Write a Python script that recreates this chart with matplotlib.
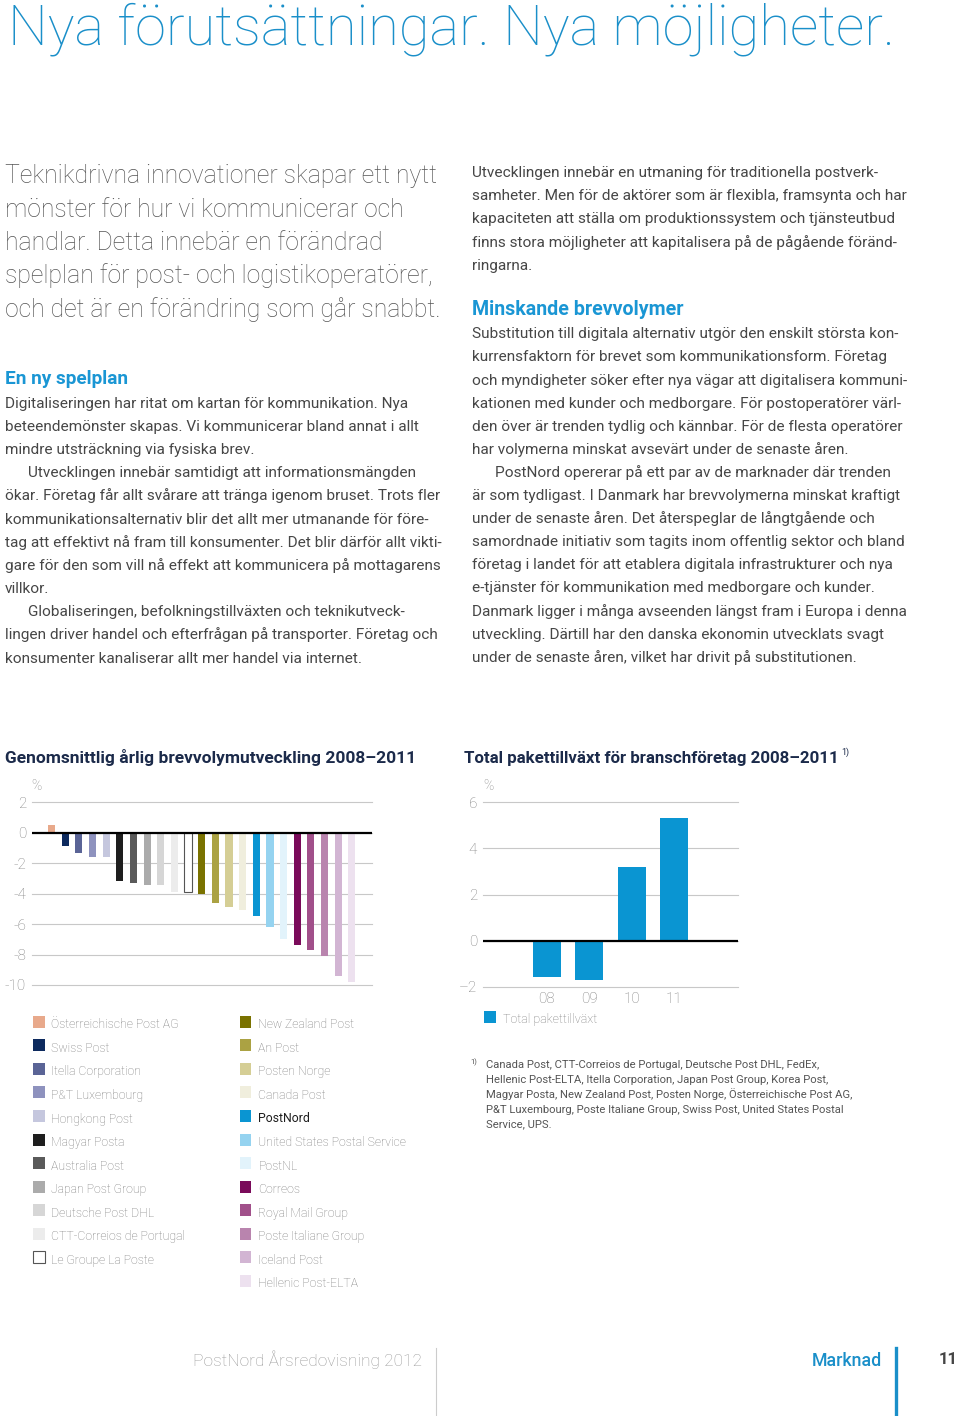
import matplotlib
matplotlib.use('Agg')
import matplotlib.pyplot as plt
from matplotlib.patches import Rectangle
from matplotlib.lines import Line2D
import numpy as np

# --- data -------------------------------------------------------------
operators = ['Österreichische Post AG', 'Swiss Post', 'Itella Corporation',
             'P&T Luxembourg', 'Hongkong Post', 'Magyar Posta', 'Australia Post',
             'Japan Post Group', 'Deutsche Post DHL', 'CTT-Correios de Portugal',
             'Le Groupe La Poste', 'New Zealand Post', 'An Post', 'Posten Norge',
             'Canada Post', 'PostNord', 'United States Postal Service', 'PostNL',
             'Correos', 'Royal Mail Group', 'Poste Italiane Group', 'Iceland Post',
             'Hellenic Post-ELTA']
volume_change = [0.5, -0.9, -1.3, -1.6, -1.6, -3.2, -3.3, -3.4, -3.4, -3.9, -3.9,
                 -4.0, -4.6, -4.9, -5.1, -5.5, -6.2, -7.0, -7.4, -7.7, -8.1, -9.4, -9.8]
operator_colors = ['#e8a98b', '#0d2a5e', '#5a6496', '#8e92be', '#c5c7de', '#1e1e1e',
                   '#5a5a5a', '#ababab', '#d6d6d6', '#ececec', '#ffffff', '#7a7200',
                   '#aba243', '#d5ce95', '#f0eedd', '#0a95d2', '#95d3f0', '#e2f3fb',
                   '#7a0a5a', '#a1508a', '#b984ae', '#d2b5d3', '#ede1ef']

years = ['08', '09', '10', '11']
parcel_growth = [-1.6, -1.7, 3.2, 5.3]

title = 'Nya förutsättningar. Nya möjligheter.'
intro_lines = [
    'Teknikdrivna innovationer skapar ett nytt',
    'mönster för hur vi kommunicerar och',
    'handlar. Detta innebär en förändrad',
    'spelplan för post- och logistikoperatörer,',
    'och det är en förändring som går snabbt.',
]
left_heading = 'En ny spelplan'
left_body = [
    'Digitaliseringen har ritat om kartan för kommunikation. Nya',
    'beteendemönster skapas. Vi kommunicerar bland annat i allt',
    'mindre utsträckning via fysiska brev.',
    'Utvecklingen innebär samtidigt att informationsmängden',
    'ökar. Företag får allt svårare att tränga igenom bruset. Trots fler',
    'kommunikationsalternativ blir det allt mer utmanande för före-',
    'tag att effektivt nå fram till konsumenter. Det blir därför allt vikti-',
    'gare för den som vill nå effekt att kommunicera på mottagarens',
    'villkor.',
    'Globaliseringen, befolkningstillväxten och teknikutveck-',
    'lingen driver handel och efterfrågan på transporter. Företag och',
    'konsumenter kanaliserar allt mer handel via internet.',
]
left_indent = {3, 9}
right_top = [
    'Utvecklingen innebär en utmaning för traditionella postverk-',
    'samheter. Men för de aktörer som är flexibla, framsynta och har',
    'kapaciteten att ställa om produktionssystem och tjänsteutbud',
    'finns stora möjligheter att kapitalisera på de pågående föränd-',
    'ringarna.',
]
right_heading = 'Minskande brevvolymer'
right_body = [
    'Substitution till digitala alternativ utgör den enskilt största kon-',
    'kurrensfaktorn för brevet som kommunikationsform. Företag',
    'och myndigheter söker efter nya vägar att digitalisera kommuni-',
    'kationen med kunder och medborgare. För postoperatörer värl-',
    'den över är trenden tydlig och kännbar. För de flesta operatörer',
    'har volymerna minskat avsevärt under de senaste åren.',
    'PostNord opererar på ett par av de marknader där trenden',
    'är som tydligast. I Danmark har brevvolymerna minskat kraftigt',
    'under de senaste åren. Det återspeglar de långtgående och',
    'samordnade initiativ som tagits inom offentlig sektor och bland',
    'företag i landet för att etablera digitala infrastrukturer och nya',
    'e-tjänster för kommunikation med medborgare och kunder.',
    'Danmark ligger i många avseenden längst fram i Europa i denna',
    'utveckling. Därtill har den danska ekonomin utvecklats svagt',
    'under de senaste åren, vilket har drivit på substitutionen.',
]
right_indent = {6}
footnote_lines = [
    'Canada Post, CTT-Correios de Portugal, Deutsche Post DHL, FedEx,',
    'Hellenic Post-ELTA, Itella Corporation, Japan Post Group, Korea Post,',
    'Magyar Posta, New Zealand Post, Posten Norge, Österreichische Post AG,',
    'P&T Luxembourg, Poste Italiane Group, Swiss Post, United States Postal',
    'Service, UPS.',
]

# --- page setup ---------------------------------------------------------
W, H = 960, 1416
plt.rcParams['font.family'] = ['Roboto', 'DejaVu Sans']
plt.rcParams['axes.unicode_minus'] = False
fig = plt.figure(figsize=(W / 100, H / 100), dpi=100)
renderer = fig.canvas.get_renderer()

BLUE = '#1a8fc9'
NAVY = '#1b2a4a'
BODY = '#464646'
GRAY = '#8a8a8a'


def put(x, y, s, **kw):
    kw.setdefault('va', 'baseline')
    return fig.text(x / W, 1 - y / H, s, **kw)


def box(x0, y0, x1, y1):
    return [x0 / W, 1 - y1 / H, (x1 - x0) / W, (y1 - y0) / H]


def fit(texts, ref, width):
    # scale a block of text so that the reference line has the target width
    s = ref.get_fontsize() * width / ref.get_window_extent(renderer).width
    for t in texts:
        t.set_fontsize(s)


# --- text ---------------------------------------------------------------
t = put(8, 45, title, color=BLUE, fontsize=40, fontweight='light')
fit([t], t, 885)

block = [put(5, 183.3 + i * 33.35, s, color='#555555', fontsize=17, fontweight='light')
         for i, s in enumerate(intro_lines)]
fit(block, block[3], 425)

h1 = put(5, 384, left_heading, color='#1a96d4', fontsize=12, fontweight='bold')
fit([h1], h1, 123)
h2 = put(471.7, 315, right_heading, color='#1a96d4', fontsize=12, fontweight='bold')
fit([h2], h2, 211)

body = []
for i, s in enumerate(left_body):
    x = 28 if i in left_indent else 5
    body.append(put(x, 407.7 + i * 23.18, s, color=BODY, fontsize=11))
for i, s in enumerate(right_top):
    body.append(put(471.7, 176.7 + i * 23.3, s, color=BODY, fontsize=11))
for i, s in enumerate(right_body):
    x = 495 if i in right_indent else 471.7
    body.append(put(x, 338.3 + i * 23.1, s, color=BODY, fontsize=11))
fit(body, body[7], 433)

# --- charts ---------------------------------------------------------------
ct1 = put(5, 762.7, 'Genomsnittlig årlig brevvolymutveckling 2008–2011',
          color=NAVY, fontsize=13, fontweight='bold')
fit([ct1], ct1, 410)
ct2 = put(464, 762.7, 'Total pakettillväxt för branschföretag 2008–2011',
          color=NAVY, fontsize=13, fontweight='bold')
fit([ct2], ct2, 377)
put(841, 755, '1)', color=NAVY, fontsize=6.5)

ax1 = fig.add_axes(box(31.7, 802.3, 371.7, 985))
x1 = np.arange(len(operators))
edges = ['#555555' if c == '#ffffff' else 'none' for c in operator_colors]
ax1.bar(x1, volume_change, width=0.52, color=operator_colors, edgecolor=edges,
        linewidth=0.8, zorder=2)
ax1.axhline(0, color='black', lw=1.6, zorder=3)
ax1.set_xlim(-1.45, len(operators) - 1 + 1.45)
ax1.set_ylim(-10, 2)
ax1.set_yticks(range(-10, 3, 2))
ax1.set_xticks([])

ax2 = fig.add_axes(box(482.7, 802.3, 738.3, 986.7))
x2 = np.arange(len(years))
ax2.bar(x2, parcel_growth, width=0.66, color='#0a95d2', zorder=2)
ax2.axhline(0, color='black', lw=1.6, zorder=3)
ax2.set_xlim(-1.5, len(years) - 1 + 1.5)
ax2.set_ylim(-2, 6)
ax2.set_yticks(range(-2, 7, 2))
ax2.set_yticklabels(['–2', '0', '2', '4', '6'])
ax2.set_xticks(x2)
ax2.set_xticklabels(years)

for ax in (ax1, ax2):
    ax.set_facecolor('none')
    for sp in ax.spines.values():
        sp.set_visible(False)
    ax.grid(axis='y', color='#c8c8c8', lw=0.8, zorder=0)
    ax.set_axisbelow(True)
    for gl in ax.get_ygridlines():
        gl.set_clip_on(False)
    ax.tick_params(length=0, labelsize=11, labelcolor='#808080', pad=4)
    for lab in ax.get_yticklabels() + ax.get_xticklabels():
        lab.set_fontweight('light')

put(31, 790, '%', color=GRAY, fontsize=10, fontweight='light')
put(483, 790, '%', color=GRAY, fontsize=10, fontweight='light')

# --- legends --------------------------------------------------------------
leg = []
for i, (name, col) in enumerate(zip(operators, operator_colors)):
    if i < 11:
        sx, tx, row = 32.5, 51, i
    else:
        sx, tx, row = 239.5, 258.3, i - 11
    yb = 1028.3 + row * 23.55
    fig.patches.append(Rectangle((sx / W, 1 - (yb - 0.5) / H), 12 / W, 12 / H,
                                 transform=fig.transFigure, facecolor=col,
                                 edgecolor='#555555' if col == '#ffffff' else 'none',
                                 lw=0.8))
    strong = name == 'PostNord'
    leg.append(put(tx, yb, name, color='#1e1e1e' if strong else '#7c7c7c', fontsize=9,
                   fontweight='normal' if strong else 'light'))
fit(leg, leg[16], 148.3)

fig.patches.append(Rectangle((484 / W, 1 - 1023.3 / H), 12 / W, 12 / H,
                             transform=fig.transFigure, facecolor='#0a95d2', lw=0))
pl = put(503.3, 1023.3, 'Total pakettillväxt', color='#7c7c7c', fontsize=9,
         fontweight='light')
fit([pl], pl, 94)

# --- footnote -------------------------------------------------------------
put(470, 1064, '1)', color='#555555', fontsize=5.5)
fn = [put(486, 1068.3 + i * 14.75, s, color='#555555', fontsize=8)
      for i, s in enumerate(footnote_lines)]
fit(fn, fn[2], 368)

# --- footer ---------------------------------------------------------------
f1 = put(193.3, 1366, 'PostNord Årsredovisning 2012', color='#9a9a9a', fontsize=12,
         fontweight='light')
fit([f1], f1, 229)
f2 = put(811.7, 1366, 'Marknad', color=BLUE, fontsize=12, fontweight='medium')
fit([f2], f2, 70)
put(958, 1364, '11', color='#444444', fontsize=12, fontweight='bold', ha='right')
fig.add_artist(Line2D([436 / W] * 2, [1 - 1348 / H, 0], color='#cccccc', lw=0.8))
fig.add_artist(Line2D([896 / W] * 2, [1 - 1348 / H, 0], color='#1a8fc9', lw=2.4))

fig.savefig('out.png', dpi=100, facecolor='white')
